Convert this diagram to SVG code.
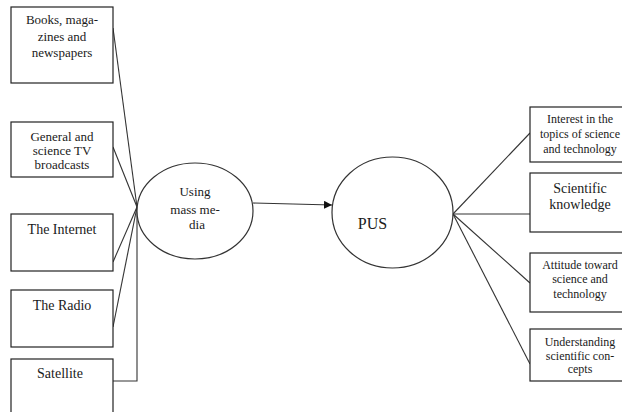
<svg xmlns="http://www.w3.org/2000/svg" width="622" height="412" viewBox="0 0 622 412" font-family="'Liberation Serif', 'Times New Roman', 'DejaVu Serif', serif">
<defs>
<style>
.box{fill:#fff;stroke:#222;stroke-width:1.2}
.ell{fill:#fff;stroke:#333;stroke-width:1.2}
.ln{fill:none;stroke:#333;stroke-width:1.1}
text{fill:#1a1a1a;text-anchor:middle}
.s12{font-size:12px}
.s13{font-size:13px}
.s14{font-size:14px}
.s16{font-size:16px}
</style>
<marker id="arr" viewBox="0 0 10 10" refX="10" refY="5" markerWidth="8" markerHeight="8" orient="auto" markerUnits="userSpaceOnUse">
<path d="M0,0 L10,5 L0,10 z" fill="#111"/>
</marker>
</defs>
<rect width="622" height="412" fill="#fff"/>
<g id="connectors">
<line class="ln" x1="113" y1="28" x2="137" y2="207"/>
<line class="ln" x1="113" y1="147" x2="137" y2="207"/>
<line class="ln" x1="113" y1="262" x2="137" y2="207"/>
<line class="ln" x1="113" y1="327" x2="137" y2="207"/>
<polyline class="ln" points="113,381 137,381 137,207"/>
<line class="ln" x1="253" y1="203" x2="332" y2="205" marker-end="url(#arr)"/>
<line class="ln" x1="453" y1="214" x2="530" y2="133"/>
<line class="ln" x1="453" y1="214" x2="530" y2="214"/>
<line class="ln" x1="453" y1="214" x2="530" y2="283"/>
<line class="ln" x1="453" y1="214" x2="530" y2="364"/>
</g>
<g id="books">
<rect class="box" x="11" y="7" width="102" height="76"/>
<text class="s13" x="62" y="24">Books, maga-</text>
<text class="s13" x="62" y="41">zines and</text>
<text class="s13" x="62" y="57">newspapers</text>
</g>
<g id="tv">
<rect class="box" x="11" y="122" width="102" height="55"/>
<text class="s13" x="62" y="141">General and</text>
<text class="s13" x="62" y="155">science TV</text>
<text class="s13" x="62" y="169">broadcasts</text>
</g>
<g id="internet">
<rect class="box" x="11" y="214" width="102" height="57"/>
<text class="s14" x="62" y="234">The Internet</text>
</g>
<g id="radio">
<rect class="box" x="11" y="290" width="102" height="57"/>
<text class="s14" x="62" y="310">The Radio</text>
</g>
<g id="satellite">
<rect class="box" x="11" y="359" width="102" height="60"/>
<text class="s14" x="60" y="378">Satellite</text>
</g>
<g id="mass-media">
<ellipse class="ell" cx="195" cy="211" rx="58" ry="48"/>
<text class="s13" x="195" y="196">Using</text>
<text class="s13" x="195" y="214">mass me-</text>
<text class="s13" x="197" y="229">dia</text>
</g>
<g id="pus">
<ellipse class="ell" cx="392.5" cy="212.5" rx="60.5" ry="55.5"/>
<text class="s16" x="372.5" y="229">PUS</text>
</g>
<g id="interest">
<rect class="box" x="530" y="107" width="100" height="55"/>
<text class="s12" x="580" y="123">Interest in the</text>
<text class="s12" x="580" y="138">topics of science</text>
<text class="s12" x="580" y="153">and technology</text>
</g>
<g id="knowledge">
<rect class="box" x="530" y="173" width="100" height="59"/>
<text class="s14" x="580" y="193">Scientific</text>
<text class="s14" x="580" y="209">knowledge</text>
</g>
<g id="attitude">
<rect class="box" x="530" y="253" width="100" height="59"/>
<text class="s12" x="580" y="269">Attitude toward</text>
<text class="s12" x="580" y="283">science and</text>
<text class="s12" x="580" y="298">technology</text>
</g>
<g id="understanding">
<rect class="box" x="530" y="329" width="100" height="52"/>
<text class="s12" x="580" y="346">Understanding</text>
<text class="s12" x="580" y="360">scientific con-</text>
<text class="s12" x="580" y="373">cepts</text>
</g>
</svg>
